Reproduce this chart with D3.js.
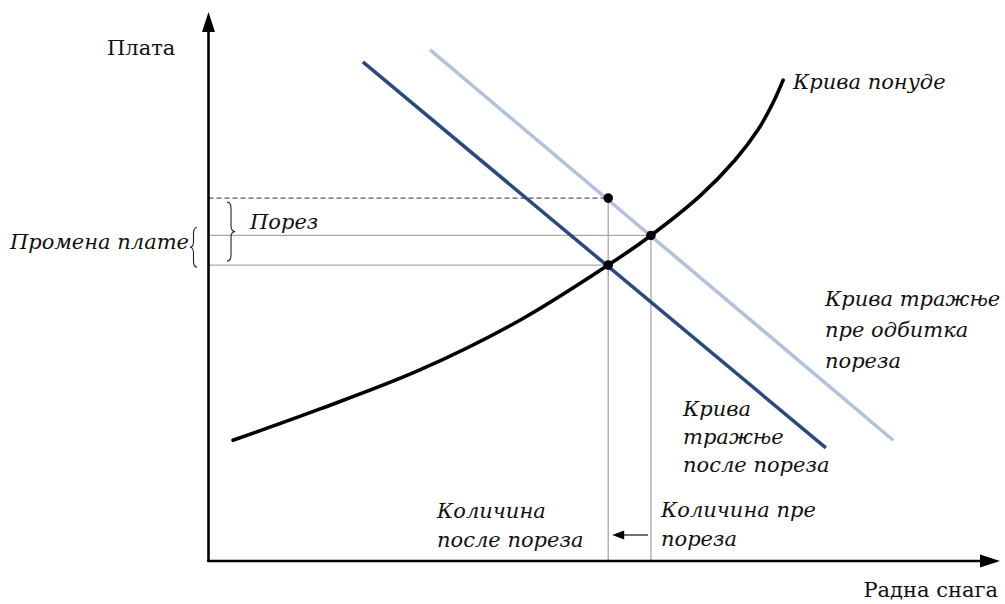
<!DOCTYPE html>
<html>
<head>
<meta charset="utf-8">
<script src="https://cdn.jsdelivr.net/npm/d3@7"></script>
<style>
  body { margin: 0; background: #fff; }
</style>
</head>
<body>
<svg width="1005" height="604"></svg>
<script>
// supply curve (labour, wage)
const supplyQ = [3.1, 14.1, 26.7, 39.4, 50.5, 55.9, 62.1, 66.5, 69.4, 71.2, 72.6];
const supplyW = [22.0, 27.7, 34.8, 43.9, 53.9, 59.3, 66.5, 73.0, 78.5, 83.1, 87.6];

// demand after tax (dark) and before tax (light)
const demandAfterQ = [19.5, 78.0];
const demandAfterW = [90.9, 20.6];
const demandBeforeQ = [28.0, 86.5];
const demandBeforeW = [93.1, 22.0];

// marked points: before-tax wage at new quantity, old equilibrium, new equilibrium
const pointNames = ["A", "E0", "E1"];
const pointQ = [50.5, 55.9, 50.5];
const pointW = [66.1, 59.3, 53.9];

var svg = d3.select("svg");
var serif = "'DejaVu Serif', 'Liberation Serif', serif";

var x = d3.scaleLinear().domain([0, 100]).range([208.5, 1000]);
var y = d3.scaleLinear().domain([0, 100]).range([561, 12]);

function pts(qs, ws) { return qs.map(function (q, i) { return [q, ws[i]]; }); }

var line = d3.line()
    .x(function (d) { return x(d[0]); })
    .y(function (d) { return y(d[1]); });

var A = [pointQ[0], pointW[0]], E0 = [pointQ[1], pointW[1]], E1 = [pointQ[2], pointW[2]];

// guide lines
var guides = svg.append("g").attr("stroke", "#a8a8a8").attr("stroke-width", 1.3).attr("fill", "none");
guides.append("path").attr("d", line([[0, E0[1]], E0]));
guides.append("path").attr("d", line([[0, E1[1]], E1]));
guides.append("path").attr("d", line([A, [A[0], 0]]));
guides.append("path").attr("d", line([E0, [E0[0], 0]]));
svg.append("path")
    .attr("d", line([[0, A[1]], A]))
    .attr("stroke", "#555").attr("stroke-width", 1.2)
    .attr("stroke-dasharray", "5,3").attr("fill", "none");

// demand lines
svg.append("path")
    .attr("d", line(pts(demandBeforeQ, demandBeforeW)))
    .attr("stroke", "#b3c2d8").attr("stroke-width", 3.5).attr("fill", "none");
svg.append("path")
    .attr("d", line(pts(demandAfterQ, demandAfterW)))
    .attr("stroke", "#2b4a7a").attr("stroke-width", 3.5).attr("fill", "none");

// supply curve
var curveLine = d3.line()
    .x(function (d) { return x(d[0]); })
    .y(function (d) { return y(d[1]); })
    .curve(d3.curveCatmullRom.alpha(0.5));
svg.append("path")
    .attr("d", curveLine(pts(supplyQ, supplyW)))
    .attr("stroke", "#000").attr("stroke-width", 3.6).attr("fill", "none")
    .attr("stroke-linecap", "round");

// points
svg.selectAll("circle.pt")
    .data(pts(pointQ, pointW))
    .enter()
    .append("circle")
    .attr("class", "pt")
    .attr("cx", function (d) { return x(d[0]); })
    .attr("cy", function (d) { return y(d[1]); })
    .attr("r", 4.8)
    .attr("fill", "#000");

// axes with arrow heads
var x0 = x(0), y0 = y(0), xEnd = x(100), yEnd = y(100);
svg.append("path").attr("d", "M" + x0 + "," + (y0 + 1) + "V" + (yEnd + 16))
    .attr("stroke", "#000").attr("stroke-width", 2.6);
svg.append("path").attr("d", "M" + (x0 - 1) + "," + y0 + "H" + (xEnd - 16))
    .attr("stroke", "#000").attr("stroke-width", 2.6);
svg.append("path")
    .attr("d", "M" + x0 + "," + yEnd + "L" + (x0 - 6.5) + "," + (yEnd + 20) + "L" + (x0 + 6.5) + "," + (yEnd + 20) + "Z")
    .attr("fill", "#000");
svg.append("path")
    .attr("d", "M" + xEnd + "," + y0 + "L" + (xEnd - 20) + "," + (y0 - 6.5) + "L" + (xEnd - 20) + "," + (y0 + 6.5) + "Z")
    .attr("fill", "#000");

// braces
function brace(xa, ya, yb, w) {
    var r = Math.min(6, (yb - ya) / 4), mid = (ya + yb) / 2, xm = xa + w / 2;
    return "M" + xa + "," + ya +
        "Q" + xm + "," + ya + " " + xm + "," + (ya + r) +
        "L" + xm + "," + (mid - r) +
        "Q" + xm + "," + mid + " " + (xa + w) + "," + mid +
        "Q" + xm + "," + mid + " " + xm + "," + (mid + r) +
        "L" + xm + "," + (yb - r) +
        "Q" + xm + "," + yb + " " + xa + "," + yb;
}
svg.append("path").attr("d", brace(227, y(A[1]) + 4, y(E1[1]) - 4, 8))
    .attr("stroke", "#222").attr("stroke-width", 1.1).attr("fill", "none");
svg.append("path").attr("d", brace(197, y(E0[1]) - 8, y(E1[1]) + 2, -7))
    .attr("stroke", "#222").attr("stroke-width", 1.1).attr("fill", "none");

// small arrow between quantities
var ay = 535;
svg.append("path").attr("d", "M" + (x(E0[0]) - 3) + "," + ay + "H" + (x(A[0]) + 14))
    .attr("stroke", "#222").attr("stroke-width", 1.3);
svg.append("path")
    .attr("d", "M" + (x(A[0]) + 4) + "," + ay + "L" + (x(A[0]) + 16) + "," + (ay - 4.5) + "L" + (x(A[0]) + 16) + "," + (ay + 4.5) + "Z")
    .attr("fill", "#000");

// labels
function label(lines, tx, ty, lh, italic, anchor) {
    var t = svg.append("text")
        .attr("x", tx).attr("y", ty)
        .attr("font-family", serif)
        .attr("font-size", 21)
        .attr("fill", "#111")
        .attr("font-style", italic ? "italic" : "normal")
        .attr("text-anchor", anchor || "start");
    lines.forEach(function (s, i) {
        t.append("tspan").attr("x", tx).attr("dy", i === 0 ? 0 : lh).text(s);
    });
}
label(["Плата"], 107, 55, 0, false);
label(["Радна снага"], 998, 597, 0, false, "end");
label(["Крива понуде"], 793, 89, 0, true);
label(["Порез"], 250, 229, 0, true);
label(["Промена плате"], 10, 249, 0, true);
label(["Крива тражње", "пре одбитка", "пореза"], 825, 306, 31, true);
label(["Крива", "тражње", "после пореза"], 683, 416, 28, true);
label(["Количина", "после пореза"], 437, 518, 29, true);
label(["Количина пре", "пореза"], 661, 517, 29, true);
</script>
</body>
</html>
